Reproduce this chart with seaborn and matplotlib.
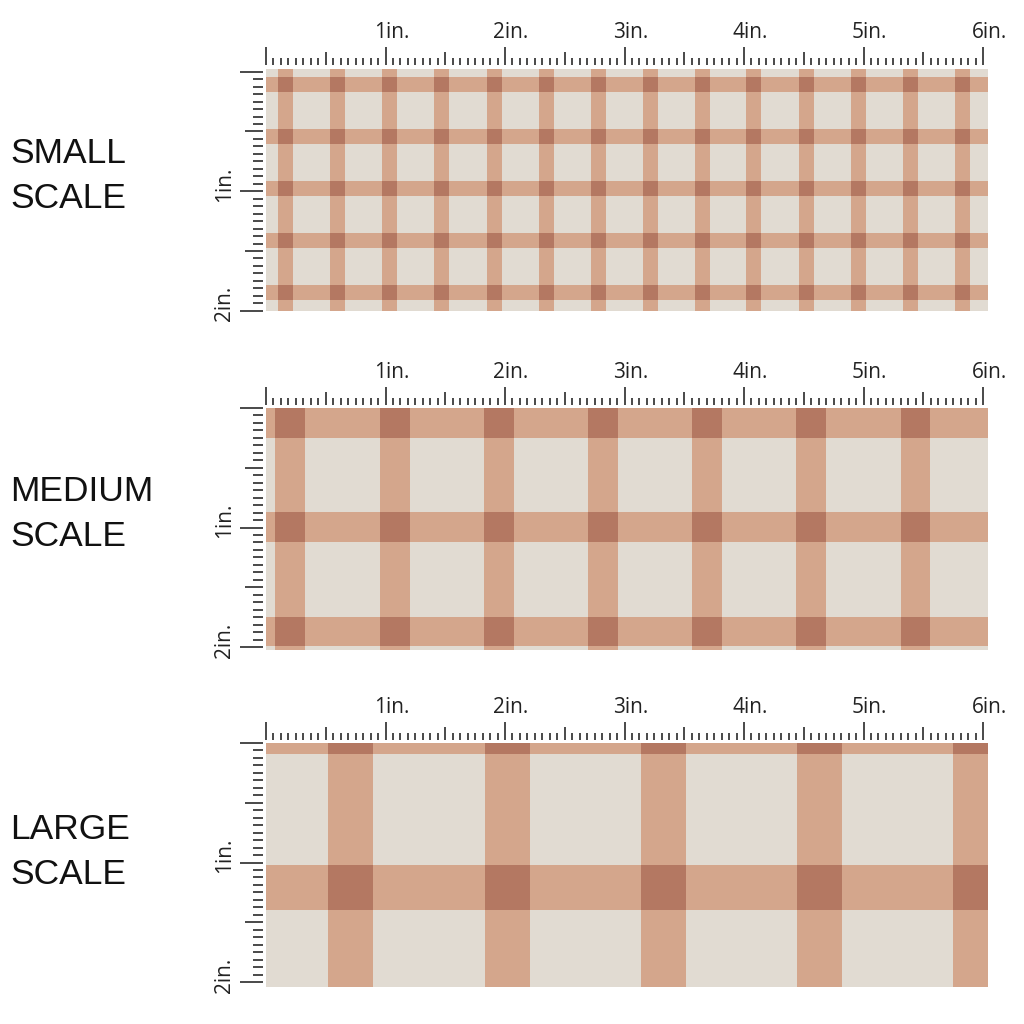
import numpy as np
import matplotlib.pyplot as plt
import matplotlib.transforms as mtransforms
from matplotlib.patches import Rectangle
import seaborn as sns

sns.set_theme(style='white')
plt.rcParams['font.family'] = ['Liberation Sans', 'DejaVu Sans']

# names printed left of each swatch
scale_names = [('SMALL', 'SCALE'), ('MEDIUM', 'SCALE'), ('LARGE', 'SCALE')]

# stripe start positions in inches
small_cols = [0.10, 0.536, 0.973, 1.41, 1.847, 2.284, 2.72, 3.155, 3.59, 4.02, 4.46, 4.893, 5.328, 5.766]
small_rows = [0.045, 0.48, 0.917, 1.352, 1.787]
medium_cols = [0.075, 0.954, 1.824, 2.695, 3.565, 4.435, 5.31]
medium_rows = [0.0, 0.87, 1.745]
large_cols = [0.52, 1.833, 3.138, 4.444, 5.749]
large_rows = [-0.284, 1.021]
stripe_widths = [0.125, 0.25, 0.375]

all_cols = [small_cols, medium_cols, large_cols]
all_rows = [small_rows, medium_rows, large_rows]

# ruler labels
top_labels = ['1in.', '2in.', '3in.', '4in.', '5in.', '6in.']
side_labels = ['1in.', '2in.']

bg_col = '#e1dbd2'
stripe_col = '#d4a68c'
cross_col = '#b47862'
tick_col = '#3a3a3a'

# layout (pixels on a 1024 canvas)
px_in = 119.5
panel_tops = [68.5, 408, 743]
ylims = [(-0.027, 2.0), (0.0, 2.025), (0.0, 2.04)]
x_max = 6.046
name_baselines = [(163, 208), (501, 546), (839, 884)]

fig = plt.figure(figsize=(10.24, 10.24), dpi=100)
fig.patch.set_facecolor('white')

for i in range(3):
    y0, y1 = ylims[i]
    h_px = (y1 - y0) * px_in
    top = panel_tops[i]
    ax = fig.add_axes([266 / 1024, 1 - (top + h_px) / 1024, x_max * px_in / 1024, h_px / 1024])
    ax.set_facecolor(bg_col)
    w = stripe_widths[i]
    for c in all_cols[i]:
        ax.axvspan(c, c + w, color=stripe_col, lw=0)
    for r in all_rows[i]:
        ax.axhspan(r, r + w, color=stripe_col, lw=0)
    for c in all_cols[i]:
        for r in all_rows[i]:
            ax.add_patch(Rectangle((c, r), w, w, color=cross_col, lw=0))
    ax.set_xlim(0, x_max)
    ax.set_ylim(y1, y0)
    for s in ax.spines.values():
        s.set_visible(False)
    ax.spines['top'].set_position(('outward', 2.5))
    ax.spines['left'].set_position(('outward', 2.2))

    # top ruler
    xmaj = np.arange(0, 6.01, 0.5)
    xlab = ['' if v % 1 or v == 0 else top_labels[int(v) - 1] for v in xmaj]
    ax.set_xticks(xmaj, labels=xlab)
    ax.set_xticks(np.arange(0, 6.001, 1 / 16), minor=True)
    ax.tick_params(axis='x', which='both', top=True, bottom=False, labeltop=True,
                   labelbottom=False, direction='out', color=tick_col, width=1.3)
    ax.tick_params(axis='x', which='major', length=13, pad=2.5, labelsize=15,
                   labelcolor='#222222')
    ax.tick_params(axis='x', which='minor', length=5)
    for t, v in zip(ax.xaxis.get_major_ticks(), xmaj):
        if v % 1:
            t.tick2line.set_markersize(9.4)
    shift = mtransforms.ScaledTranslation(0.06, 0, fig.dpi_scale_trans)
    for lab in ax.get_xticklabels():
        lab.set_fontfamily(['Open Sans', 'DejaVu Sans'])
        lab.set_transform(lab.get_transform() + shift)

    # side ruler
    ymaj = np.arange(0, 2.01, 0.5)
    ylab = ['' if v % 1 or v == 0 else side_labels[int(v) - 1] for v in ymaj]
    ax.set_yticks(ymaj, labels=ylab)
    ax.set_yticks(np.arange(0, 2.001, 1 / 16), minor=True)
    ax.tick_params(axis='y', which='both', left=True, right=False, labelleft=True,
                   direction='out', color=tick_col, width=1.3)
    ax.tick_params(axis='y', which='major', length=16.5, pad=3.5, labelsize=15,
                   labelcolor='#222222', labelrotation=90)
    ax.tick_params(axis='y', which='minor', length=7)
    for t, v in zip(ax.yaxis.get_major_ticks(), ymaj):
        if v % 1:
            t.tick1line.set_markersize(13)
    vshift = mtransforms.ScaledTranslation(0, 0.07, fig.dpi_scale_trans)
    for lab in ax.get_yticklabels():
        lab.set_fontfamily(['Open Sans', 'DejaVu Sans'])
        lab.set_verticalalignment('center')
        lab.set_transform(lab.get_transform() + vshift)
    ax.grid(False)

    for name, base in zip(scale_names[i], name_baselines[i]):
        fig.text(10 / 1024, 1 - base / 1024, name, fontsize=25.5, color='#111111',
                 ha='left', va='baseline')

fig.savefig('out.png', dpi=100, facecolor='white')
